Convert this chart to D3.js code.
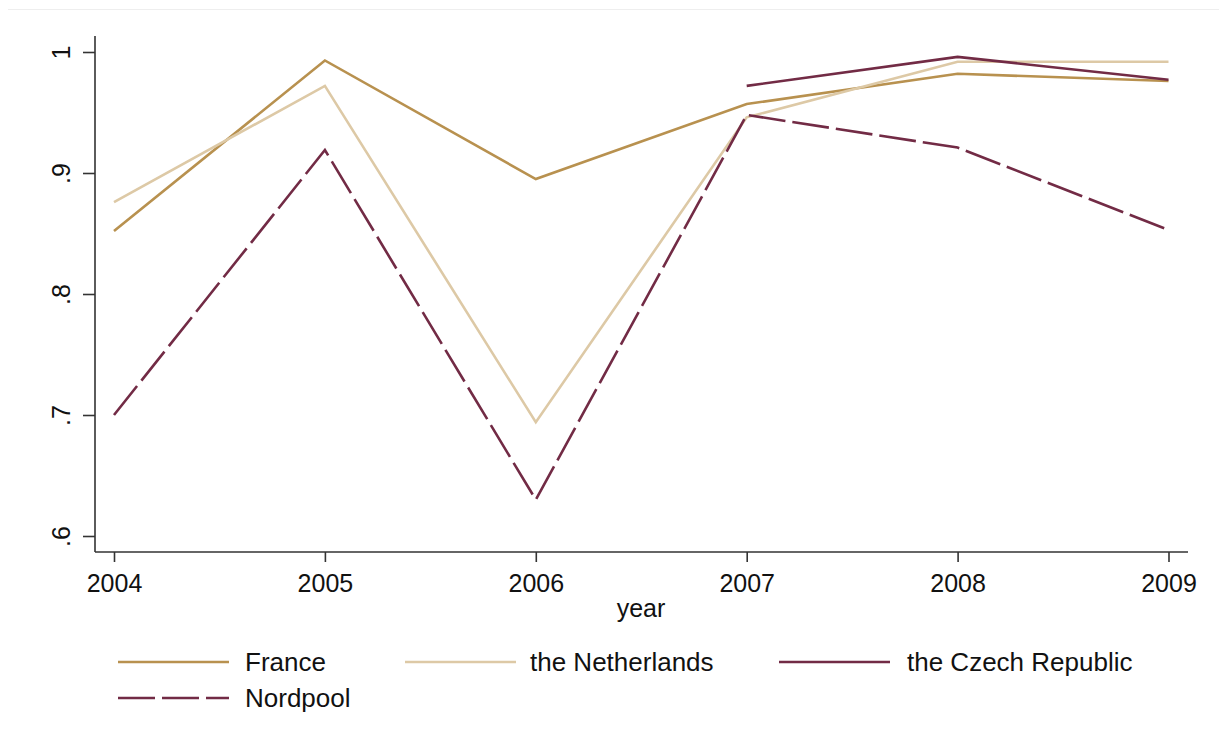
<!DOCTYPE html>
<html>
<head>
<meta charset="utf-8">
<script src="https://cdn.jsdelivr.net/npm/d3@7"></script>
<style>
  html, body { margin: 0; padding: 0; background: #fff; }
  svg { display: block; font-family: "Liberation Sans", Arial, sans-serif; }
</style>
</head>
<body>
<svg id="chart" width="1219" height="749"></svg>
<script>
const years = [2004, 2005, 2006, 2007, 2008, 2009];
const france = [0.852, 0.993, 0.895, 0.957, 0.982, 0.976];
const netherlands = [0.876, 0.972, 0.694, 0.946, 0.992, 0.992];
const czech = [null, null, null, 0.972, 0.996, 0.977];
const nordpool = [0.700, 0.919, 0.630, 0.948, 0.921, 0.853];
const yTicks = [0.6, 0.7, 0.8, 0.9, 1];
const yTickLabels = [".6", ".7", ".8", ".9", "1"];
const seriesNames = ["France", "the Netherlands", "the Czech Republic", "Nordpool"];

const colors = ["#b8914f", "#ddc9a6", "#722b45", "#722b45"];
const dashes = [null, null, null, "37,7"];
const seriesVals = [france, netherlands, czech, nordpool];

const svg = d3.select("#chart");

// faint outer border line at top
svg.append("line").attr("x1", 8).attr("x2", 1219).attr("y1", 9.5).attr("y2", 9.5)
  .attr("stroke", "#eeeeee").attr("stroke-width", 1);

const x = d3.scaleLinear().domain([2004, 2009]).range([114, 1168.5]);
const y = d3.scaleLinear().domain([0.6, 1]).range([536, 52]);

const axisColor = "#333";

// Y axis
const yAxis = svg.append("g").attr("transform", "translate(95,0)")
  .call(d3.axisLeft(y).tickValues(yTicks).tickSize(12).tickPadding(0)
    .tickFormat((d, i) => yTickLabels[i]));
yAxis.select(".domain").attr("d", "M0,36V552").attr("stroke", axisColor).attr("stroke-width", 1.6);
yAxis.selectAll(".tick line").attr("stroke", axisColor).attr("stroke-width", 1.6);
yAxis.selectAll(".tick text")
  .attr("transform", "translate(-25,0) rotate(-90)")
  .attr("x", 0).attr("y", 0).attr("dy", 0)
  .attr("text-anchor", "middle")
  .attr("font-size", 25).attr("fill", "#111")
  .attr("font-family", "Liberation Sans, Arial, sans-serif");

// X axis
const xAxis = svg.append("g").attr("transform", "translate(0,552)")
  .call(d3.axisBottom(x).tickValues(years).tickSize(10).tickPadding(0)
    .tickFormat(d3.format("d")));
xAxis.select(".domain").attr("d", "M95,0H1188").attr("stroke", axisColor).attr("stroke-width", 1.6);
xAxis.selectAll(".tick line").attr("stroke", axisColor).attr("stroke-width", 1.6);
xAxis.selectAll(".tick text")
  .attr("y", 40).attr("dy", 0)
  .attr("font-size", 25).attr("fill", "#111")
  .attr("font-family", "Liberation Sans, Arial, sans-serif");

svg.append("text").attr("x", 641).attr("y", 617).attr("text-anchor", "middle")
  .attr("font-size", 25).attr("fill", "#111").text("year");

// Lines
const line = d3.line()
  .defined(d => d.v !== null)
  .x(d => x(d.yr)).y(d => y(d.v));

seriesVals.forEach((vals, i) => {
  const data = years.map((yr, j) => ({ yr, v: vals[j] }));
  svg.append("path").datum(data)
    .attr("d", line)
    .attr("fill", "none")
    .attr("stroke", colors[i])
    .attr("stroke-width", 2.6)
    .attr("stroke-linejoin", "miter")
    .attr("stroke-dasharray", dashes[i]);
});

// Legend
const legendPos = [
  { lx: 118, tx: 245, y: 662 },
  { lx: 405, tx: 530, y: 662 },
  { lx: 779, tx: 907, y: 662 },
  { lx: 118, tx: 245, y: 698 }
];
seriesNames.forEach((name, i) => {
  const p = legendPos[i];
  svg.append("line").attr("x1", p.lx).attr("x2", p.lx + 111)
    .attr("y1", p.y).attr("y2", p.y)
    .attr("stroke", colors[i]).attr("stroke-width", 2.6)
    .attr("stroke-dasharray", dashes[i]);
  svg.append("text").attr("x", p.tx).attr("y", p.y + 9)
    .attr("font-size", 26).attr("fill", "#111").text(name);
});
</script>
</body>
</html>
